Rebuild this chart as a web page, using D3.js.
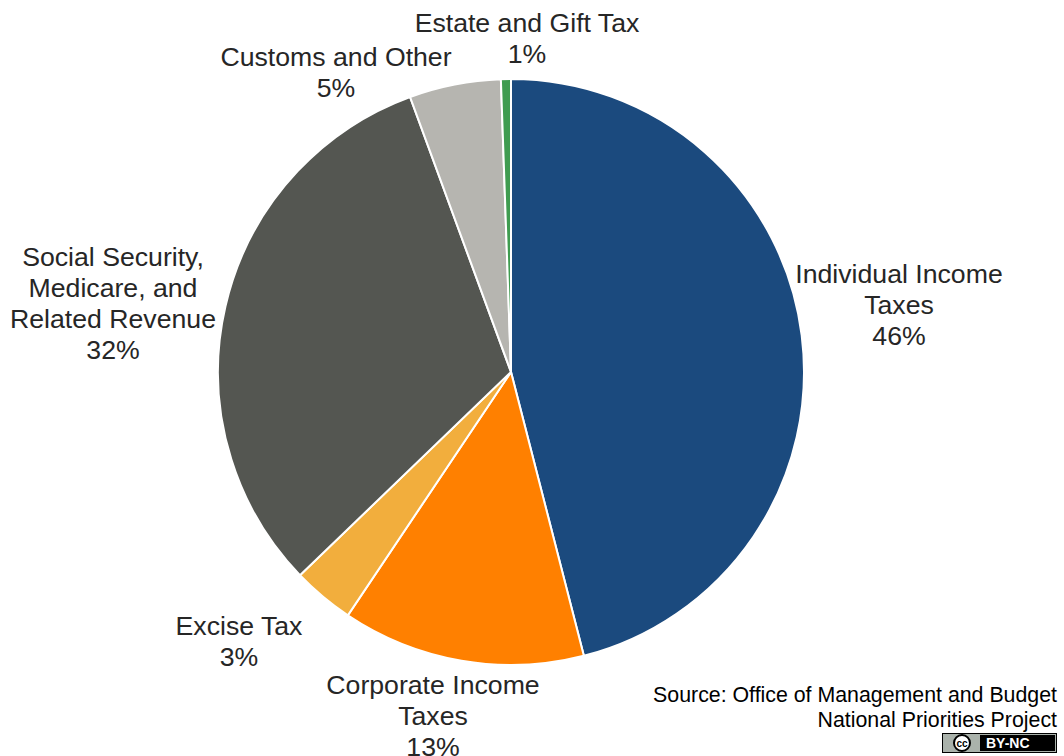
<!DOCTYPE html>
<meta charset="utf-8">

<head>
  <title>federal revenue pie</title>
</head>

<style>
  body {
    margin: 0;
    background: #fff;
  }

  text {
    font-family: "Liberation Sans", Arial, sans-serif;
    fill: #262626;
  }
</style>

<body>
  <svg width="1064" height="756"></svg>

  <script src="https://cdnjs.cloudflare.com/ajax/libs/d3/7.8.5/d3.min.js"></script>
  <script>
    var categories = ['Individual Income Taxes', 'Corporate Income Taxes', 'Excise Tax',
      'Social Security, Medicare, and Related Revenue', 'Customs and Other', 'Estate and Gift Tax']
    var values = [46, 13.4, 3.4, 31.6, 5.05, 0.55]
    var percentLabels = ['46%', '13%', '3%', '32%', '5%', '1%']
    var labelLines = [
      ['Individual Income', 'Taxes'],
      ['Corporate Income', 'Taxes'],
      ['Excise Tax'],
      ['Social Security,', 'Medicare, and', 'Related Revenue'],
      ['Customs and Other'],
      ['Estate and Gift Tax']
    ]
    var colors = ['#1b4a7e', '#ff8000', '#f2ae3d', '#545651', '#b6b5b0', '#3f9c50']
    var sourceLines = ['Source: Office of Management and Budget', 'National Priorities Project']

    // label centres, x and baseline of first line
    var labelPos = [[899, 283], [433, 694], [239, 635], [113, 266], [336, 66], [527, 32]]

    var svg = d3.select('svg')
    var cx = 511,
      cy = 372,
      radius = 293

    var pie = d3.pie().sort(null)
    var arc = d3.arc().innerRadius(0).outerRadius(radius)

    svg.append('g')
      .attr('transform', 'translate(' + cx + ',' + cy + ')')
      .selectAll('path')
      .data(pie(values))
      .enter()
      .append('path')
      .attr('d', arc)
      .attr('fill', function(d, i) {
        return colors[i]
      })
      .attr('stroke', '#fff')
      .attr('stroke-width', 2)

    var labels = svg.selectAll('.label')
      .data(categories)
      .enter()
      .append('text')
      .attr('class', 'label')
      .attr('text-anchor', 'middle')
      .attr('font-size', 26.67)

    labels.each(function(d, i) {
      var lines = labelLines[i].concat(percentLabels[i])
      d3.select(this).selectAll('tspan')
        .data(lines)
        .enter()
        .append('tspan')
        .attr('x', labelPos[i][0])
        .attr('y', function(l, j) {
          return labelPos[i][1] + j * 31
        })
        .text(function(l) {
          return l
        })
    })

    svg.selectAll('.source')
      .data(sourceLines)
      .enter()
      .append('text')
      .attr('class', 'source')
      .attr('text-anchor', 'end')
      .attr('font-size', 21.33)
      .attr('x', 1057)
      .attr('y', function(d, i) {
        return 702 + i * 25
      })
      .style('fill', '#000')
      .text(function(d) {
        return d
      })

    // cc badge
    var badge = svg.append('g').attr('transform', 'translate(942,733)')
    badge.append('rect').attr('width', 115).attr('height', 20).attr('fill', '#000')
    badge.append('rect').attr('x', 1.5).attr('y', 1.5).attr('width', 112).attr('height', 17).attr('fill', '#000').attr('stroke', '#aab2ab').attr('stroke-width', 1)
    badge.append('rect').attr('x', 2).attr('y', 2).attr('width', 36).attr('height', 16).attr('fill', '#aab2ab')
    badge.append('circle').attr('cx', 20).attr('cy', 10).attr('r', 8).attr('fill', '#fff').attr('stroke', '#000').attr('stroke-width', 2)
    badge.append('text').attr('x', 20).attr('y', 13.5).attr('text-anchor', 'middle')
      .attr('font-size', 10).style('font-weight', 'bold').style('fill', '#000').text('cc')
    badge.append('text').attr('x', 44).attr('y', 15).attr('font-size', 14)
      .style('font-weight', 'bold').style('fill', '#fff').text('BY-NC')
  </script>
</body>

</html>
